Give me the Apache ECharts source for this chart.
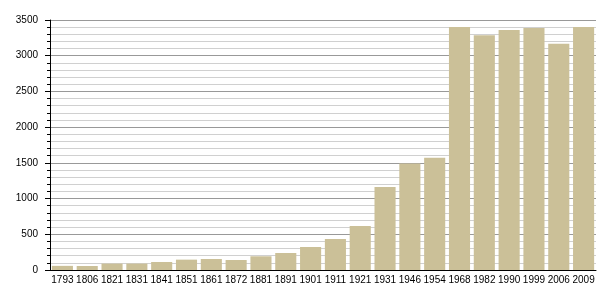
<!DOCTYPE html>
<html><head><meta charset="utf-8">
<script src="https://cdn.jsdelivr.net/npm/echarts@6/dist/echarts.min.js"></script>
<style>html,body{margin:0;padding:0;background:#fff}#c{width:605px;height:300px}</style>
</head><body><div id="c"></div>
<script>
const years = ['1793','1806','1821','1831','1841','1851','1861','1872','1881','1891','1901','1911','1921','1931','1946','1954','1968','1982','1990','1999','2006','2009'];
const population = [58,56,90,90,112,145,154,140,192,238,322,434,616,1162,1490,1572,3402,3286,3360,3388,3169,3402];
const yTicks = [0,500,1000,1500,2000,2500,3000,3500];

const chart = echarts.init(document.getElementById('c'), null, {renderer:'canvas'});
chart.setOption({
  animation:false,
  backgroundColor:'#fff',
  grid:{left:50,right:9,top:20,bottom:30},
  xAxis:{
    type:'category', data:years,
    axisLine:{lineStyle:{color:'#000',width:1}},
    axisTick:{show:false},
    axisLabel:{color:'#000',fontSize:10,fontFamily:'Liberation Sans, Arial, sans-serif',margin:5,interval:0}
  },
  yAxis:{
    type:'value', min:yTicks[0], max:yTicks[yTicks.length-1], interval:500,
    axisLine:{show:true,lineStyle:{color:'#000',width:1}},
    axisTick:{show:true,length:5,lineStyle:{color:'#000'}},
    minorTick:{show:true,splitNumber:5,length:3,lineStyle:{color:'#000'}},
    splitLine:{show:true,lineStyle:{color:'#999',width:1}},
    minorSplitLine:{show:true,lineStyle:{color:'#d0d0d0',width:1}},
    axisLabel:{color:'#000',fontSize:10,fontFamily:'Liberation Sans, Arial, sans-serif',margin:12,formatter:v=>String(v)}
  },
  series:[{
    type:'bar', data:population, barCategoryGap:'15%',
    itemStyle:{color:'#cbc098'}
  }]
});
</script></body></html>
